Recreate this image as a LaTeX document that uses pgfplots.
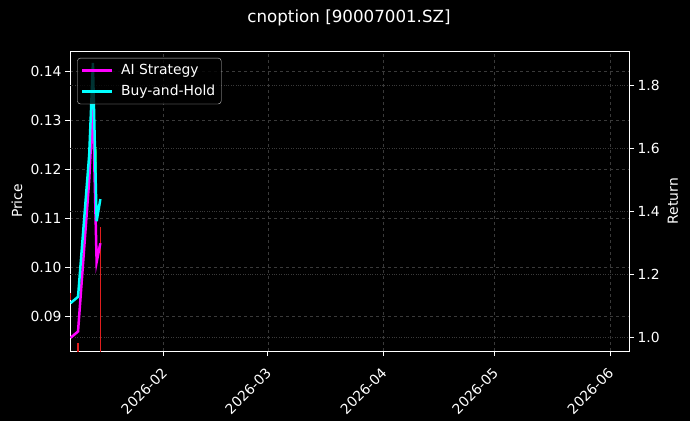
\documentclass[border=0pt]{standalone}
\usepackage{fontspec}
\setmainfont{DejaVu Sans}
\usepackage{pgfplots}
\pgfplotsset{compat=1.18}

\definecolor{gridc}{RGB}{58,58,58}
\definecolor{candlered}{RGB}{225,30,30}
\definecolor{candlegreen}{RGB}{20,200,60}
\definecolor{legedge}{RGB}{200,200,200}
\definecolor{aimag}{RGB}{255,0,255}
\definecolor{bhcyan}{RGB}{0,255,255}

\pgfplotsset{
  base/.style={
    at={(70pt,70pt)}, anchor=south west,
    scale only axis, width=559pt, height=300pt,
    xmin=5.84, xmax=156.1,
    axis line style={white, line width=1pt},
    every tick/.style={white, line width=0.9pt},
    major tick length=5pt,
    tick align=outside,
    ticklabel style={font=\fontsize{13.9}{16}\selectfont, text=white},
    label style={font=\fontsize{13.9}{16}\selectfont, text=white},
    /pgf/number format/assume math mode=true,
  }
}

\begin{document}
\begin{tikzpicture}[x=1pt,y=1pt]
\fill[black] (0,0) rectangle (690,421);

% price axis (left) with candles
\begin{axis}[base,
  ymin=0.08301, ymax=0.14407,
  ytick={0.09,0.10,0.11,0.12,0.13,0.14},
  yticklabel style={/pgf/number format/.cd, fixed, fixed zerofill, precision=2},
  ytick pos=left, xtick pos=bottom,
  xtick={31,59,90,120,151},
  xticklabels={2026-02,2026-03,2026-04,2026-05,2026-06},
  xticklabel style={rotate=45, anchor=north east, xshift=-6pt, yshift=-2pt},
  grid=major, major grid style={gridc, dashed, line width=0.5pt},
  ylabel=Price,
  ylabel style={at={(axis description cs:-0.0948,0.5)}, anchor=center},
]
\addplot[candlered, line width=1.3pt] coordinates {(6,0.0934) (6,0.0948)};
\addplot[candlered, line width=2.5pt] coordinates {(8,0.0800) (8,0.0846)};
\addplot[candlegreen, line width=1.3pt] coordinates {(13,0.1097) (13,0.1246)};
\addplot[candlered, line width=1.3pt] coordinates {(14,0.0800) (14,0.1083)};
\end{axis}

% return axis (right) with the strategy lines
\begin{axis}[base,
  axis x line=none, axis y line*=right,
  ymin=0.958, ymax=1.910,
  ytick={1.0,1.2,1.4,1.6,1.8},
  yticklabel style={/pgf/number format/.cd, fixed, fixed zerofill, precision=1},
  ymajorgrids, major grid style={gridc, dotted, line width=0.6pt},
  ylabel=Return,
  ylabel style={at={(axis description cs:1.0787,0.5)}, anchor=center},
  legend style={at={(0.0130,0.977)}, anchor=north west,
    fill=black, fill opacity=0.8, text opacity=1, draw=legedge,
    rounded corners=3pt, text=white, font=\fontsize{13.9}{16}\selectfont,
    inner xsep=3.5pt, inner ysep=4.5pt, row sep=5pt,
    nodes={inner ysep=2pt, inner xsep=2.5pt},
    /tikz/every odd column/.append style={column sep=5pt}},
  legend cell align=left,
  legend image code/.code={\draw[#1, line width=2.6pt] (0pt,0pt) -- (30pt,0pt);},
]
\addplot[aimag, line width=2.5pt] coordinates {
  (6,1.00) (7,1.01) (8,1.02) (11,1.50) (12,1.74) (13,1.24) (14,1.30)};
\addlegendentry{AI Strategy}
\addplot[bhcyan, line width=2.5pt] coordinates {
  (6,1.11) (7,1.12) (8,1.13) (11,1.58) (12,1.872) (13,1.37) (14,1.44)};
\addlegendentry{Buy-and-Hold}
\end{axis}

\node[text=white, font=\fontsize{16.7}{19}\selectfont] at (349,403) {cnoption [90007001.SZ]};
\end{tikzpicture}
\end{document}
